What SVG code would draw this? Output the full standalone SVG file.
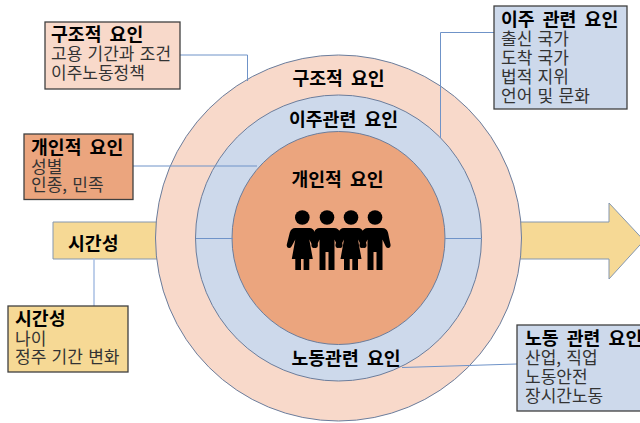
<svg xmlns="http://www.w3.org/2000/svg" xmlns:xlink="http://www.w3.org/1999/xlink" width="640" height="423" viewBox="0 0 640 423">
<style>
text{font-family:"Noto Sans CJK KR","Noto Sans CJK SC",sans-serif;fill:#000}
.h{font-size:18.300px;font-weight:700;word-spacing:4px}
.c{font-size:18.300px;font-weight:700;word-spacing:4px}
.b{font-size:17px;fill:#333;font-weight:400;word-spacing:1.500px}
.box{stroke:#404040;stroke-width:1.300}
.ring{stroke:#6b7d9c;stroke-width:1}
.cn{fill:none;stroke:#6f93c8;stroke-width:1}
</style>
<defs>
<g id="woman"><circle cx="0" cy="-22" r="7.300"/><path d="M-7-11.500C-10-11.500-11.500-10-12.500-7L-15.500 5Q-16 8-13.500 8.500Q-11.500 9-10.500 6.500L-7 0-10.500 19.500H-7V30.500H-1.300V19.500H1.300V30.500H7V19.500H10.500L7 0 10.500 6.500Q11.500 9 13.500 8.500Q16 8 15.500 5L12.500-7C11.500-10 10-11.500 7-11.500Z"/></g>
<g id="man"><circle cx="0" cy="-22" r="7.300"/><path d="M-7-11.500C-10.500-11.500-12-10-13-7L-15.500 5Q-16 8-13.500 8.500Q-11.500 9-10.500 6.500L-7.500 0V30.500H-1.500V12.500H1.500V30.500H7.500V0L10.500 6.500Q11.500 9 13.500 8.500Q16 8 15.500 5L13-7C12-10 10.500-11.500 7-11.500Z"/></g>
</defs>
<rect width="640" height="423" fill="#fff"/>
<g id="arrow-time">
<path d="M53 222H160V259H53Z" fill="#f6d995" stroke="#8497b0" stroke-width="1"/>
<path d="M515 222H609V203L644 240.500 609 279V259H515Z" fill="#f6d995" stroke="#8497b0" stroke-width="1"/>
<text class="h" x="68" y="250">시간성</text>
</g>
<g id="ring-structural"><circle class="ring" cx="338.500" cy="238" r="183" fill="#f8d9ca"/><text class="c" x="338.500" y="85" text-anchor="middle">구조적 요인</text></g>
<g id="ring-migration"><circle class="ring" cx="338.500" cy="238" r="143" fill="#cdd9eb"/><text class="c" x="343.500" y="126" text-anchor="middle">이주관련 요인</text><text class="c" x="346" y="365" text-anchor="middle">노동관련 요인</text></g>
<g id="ring-individual"><circle class="ring" cx="338.500" cy="238" r="106.500" fill="#eba57e"/><text class="c" x="337.500" y="186" text-anchor="middle">개인적 요인</text>
<use xlink:href="#woman" x="302.300" y="239.500"/><use xlink:href="#man" x="327" y="239.500"/><use xlink:href="#woman" x="351" y="239.500"/><use xlink:href="#man" x="375" y="239.500"/></g>
<g id="connectors">
<path class="cn" d="M180 55H247.500V81"/>
<path class="cn" d="M133 166H257"/>
<path class="cn" d="M494 32.500H440.500V138"/>
<path class="cn" d="M94 258V306" style="stroke:#a9bfe3;stroke-width:1.500"/>
<path class="cn" d="M196 238.500H233"/>
<path class="cn" d="M445 238.500H482"/>
<path class="cn" d="M402 367.500L517 364"/>
</g>
<g id="box-structural"><rect class="box" x="45" y="22" width="135" height="67" fill="#f8d9ca"/><text class="h" x="51" y="41">구조적 요인</text><text class="b" x="51" y="60">고용 기간과 조건</text><text class="b" x="51" y="79">이주노동정책</text></g>
<g id="box-individual"><rect class="box" x="24" y="134" width="109" height="65.500" fill="#eba57e"/><text class="h" x="31" y="154">개인적 요인</text><text class="b" x="31" y="173">성별</text><text class="b" x="31" y="191">인종, 민족</text></g>
<g id="box-migration"><rect class="box" x="494" y="6" width="133" height="103" fill="#cdd9eb"/><text class="h" x="501" y="26">이주 관련 요인</text><text class="b" x="501" y="45">출신 국가</text><text class="b" x="501" y="64">도착 국가</text><text class="b" x="501" y="83">법적 지위</text><text class="b" x="501" y="102">언어 및 문화</text></g>
<g id="box-time"><rect class="box" x="8" y="306" width="120" height="66" fill="#f6d995"/><text class="h" x="15" y="325">시간성</text><text class="b" x="15" y="345">나이</text><text class="b" x="15" y="363">정주 기간 변화</text></g>
<g id="box-labor"><rect class="box" x="517" y="325" width="127" height="86" fill="#cdd9eb"/><text class="h" x="525" y="345">노동 관련 요인</text><text class="b" x="525" y="364">산업, 직업</text><text class="b" x="525" y="383">노동안전</text><text class="b" x="525" y="402">장시간노동</text></g>
</svg>
